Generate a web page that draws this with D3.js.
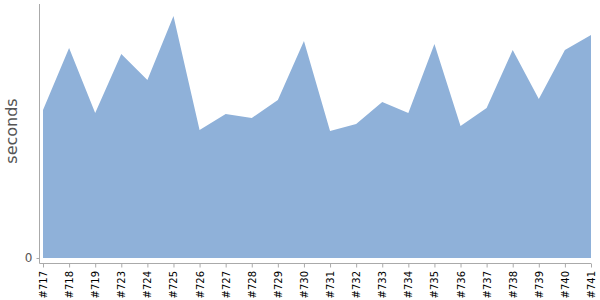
<!DOCTYPE html>
<html>
<head>
<meta charset="utf-8">
<script src="https://cdn.jsdelivr.net/npm/d3@7"></script>
<style>
  body { margin: 0; background: #fff; }
  svg { display: block; }
  .x-axis text { font-family: "DejaVu Sans", sans-serif; font-size: 10px; fill: #000; }
  .y-axis text { font-family: "DejaVu Sans", sans-serif; font-size: 12px; fill: #555; }
  .domain, .tick line { stroke: #aaa; }
  .ylabel { font-family: "DejaVu Sans", sans-serif; font-size: 16px; fill: #555; }
</style>
</head>
<body>
<svg id="chart" width="600" height="300"></svg>
<script>

// Builds and their durations (seconds)
var builds = ['#717', '#718', '#719', '#723', '#724', '#725', '#726', '#727', '#728', '#729', '#730',
              '#731', '#732', '#733', '#734', '#735', '#736', '#737', '#738', '#739', '#740', '#741'];
var seconds = [148, 210, 145, 204, 178, 242, 128, 144, 140, 158, 217,
               127, 134, 156, 145, 214, 132, 150, 208, 159, 208, 223];
var yTicks = [0];

var width = 600,
    height = 300,
    plot = {left: 43, right: 591, top: 4, bottom: 258},
    axisX = 39.5,
    axisY = 263.5;

var data = builds.map(function(b, i) { return {build: b, value: seconds[i]}; });

var svg = d3.select('#chart');

var xScale = d3.scalePoint()
    .domain(builds)
    .range([plot.left, plot.right]);

var yScale = d3.scaleLinear()
    .domain([0, 254])
    .range([plot.bottom, plot.top]);

var area = d3.area()
    .x(function(d) { return xScale(d.build); })
    .y0(yScale(0))
    .y1(function(d) { return yScale(d.value); });

svg.append('path')
    .datum(data)
    .attr('fill', '#8fb1d9')
    .attr('d', area);

// y axis
var yAxis = svg.append('g')
    .attr('class', 'y-axis')
    .attr('transform', 'translate(' + axisX + ',0)')
    .call(d3.axisLeft(yScale).tickValues(yTicks).tickSize(3).tickPadding(4).tickSizeOuter(0));
yAxis.select('.domain').attr('d', 'M0,' + plot.top + 'V' + axisY);

svg.append('text')
    .attr('class', 'ylabel')
    .attr('transform', 'translate(17,' + 131 + ') rotate(-90)')
    .attr('text-anchor', 'middle')
    .text('seconds');

// x axis
var xAxis = svg.append('g')
    .attr('class', 'x-axis')
    .attr('transform', 'translate(0,' + axisY + ')')
    .call(d3.axisBottom(xScale).tickSize(4).tickSizeOuter(0));
xAxis.select('.domain').attr('d', 'M' + axisX + ',0H' + plot.right);
xAxis.selectAll('text')
    .attr('transform', 'rotate(-90)')
    .attr('text-anchor', 'end')
    .attr('x', -7.5)
    .attr('y', 0)
    .attr('dy', '0.35em');

</script>
</body>
</html>
